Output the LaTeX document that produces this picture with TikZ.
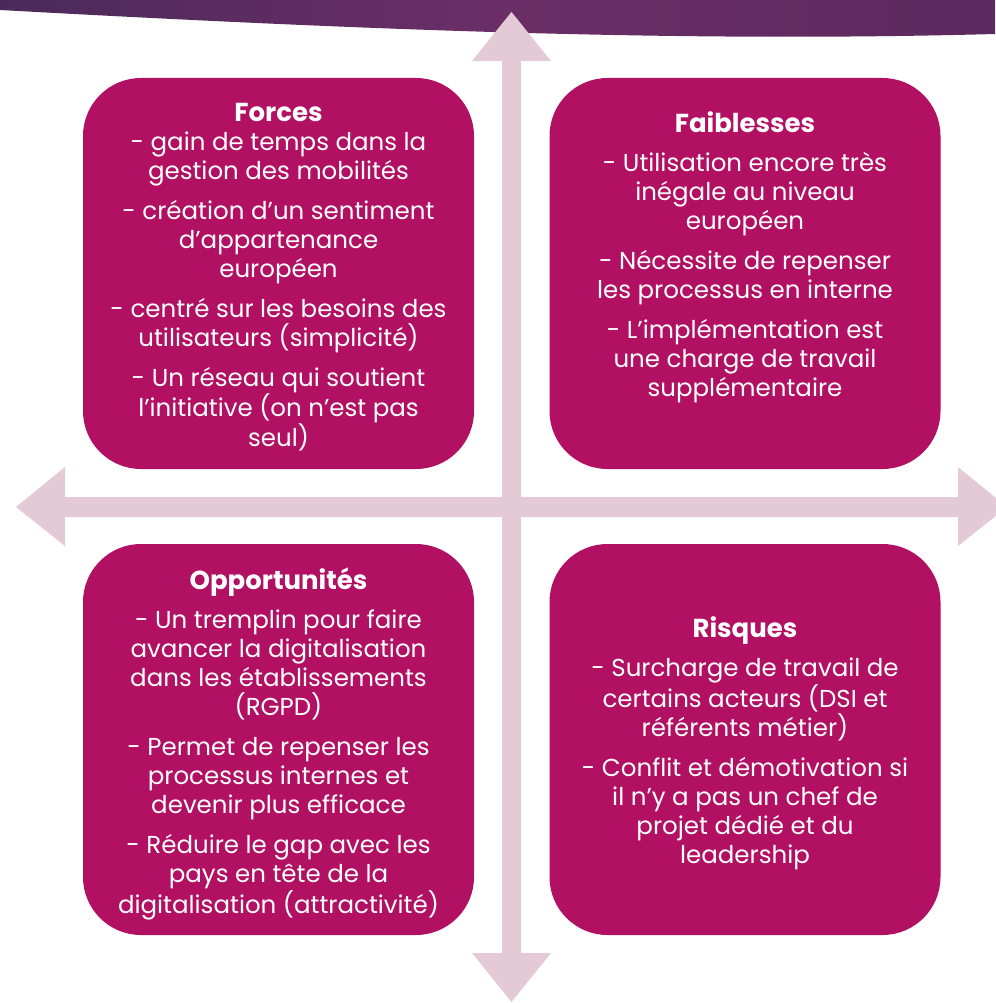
\documentclass[tikz,border=0pt]{standalone}
\usepackage{fontspec}
\setmainfont{Poppins}
\definecolor{boxc}{HTML}{B11063}
\definecolor{arrc}{HTML}{E3CAD4}
\definecolor{banL}{HTML}{4B2A5B}
\definecolor{banM}{HTML}{6B2E66}
\definecolor{banR}{HTML}{5B2A5E}
\tikzset{
  quad/.style={fill=boxc, draw=none, rounded corners=58pt, minimum width=391pt, minimum height=391pt, inner sep=0pt},
  body/.style={text=white, align=center, inner sep=0pt, font=\fontsize{24.5}{29}\selectfont},
  arr/.style={fill=arrc, draw=none}
}
\newcommand{\ttl}{\fontsize{26}{29}\selectfont\bfseries}
\begin{document}
\begin{tikzpicture}[x=1pt,y=-1pt]
\useasboundingbox (0,0) rectangle (995,1003);
% banner
\shade[left color=banL, right color=banR, middle color=banM]
  (0,0) -- (995,0) -- (995,34) .. controls (700,42) and (400,32) .. (0,10) -- cycle;
% arrows
\fill[arr] (16,507) -- (65,467) -- (65,497) -- (958,497) -- (958,467) -- (1007,507)
  -- (958,546) -- (958,517) -- (65,517) -- (65,546) -- cycle;
\fill[arr] (511.5,12) -- (551,61) -- (521,61) -- (521,953) -- (551,953) -- (511.5,1002)
  -- (472,953) -- (502,953) -- (502,61) -- (472,61) -- cycle;
% boxes
\node[quad] (f) at (278.5,273.5) {};
\node[quad] (w) at (745,273.5) {};
\node[quad] (o) at (278.5,739.5) {};
\node[quad] (r) at (745,739.5) {};
% texts
\node[body] (ft) at (278.5,277) {{\ttl Forces}\\[0pt]
- gain de temps dans la\\gestion des mobilités\\[11pt]
- création d’un sentiment\\d’appartenance\\européen\\[11pt]
- centré sur les besoins des\\utilisateurs (simplicité)\\[11pt]
- Un réseau qui soutient\\l’initiative (on n’est pas\\seul)};
\node[body] (wt) at (745,257) {{\ttl Faiblesses}\\[10pt]
- Utilisation encore très\\inégale au niveau\\européen\\[11pt]
- Nécessite de repenser\\les processus en interne\\[11pt]
- L’implémentation est\\une charge de travail\\supplémentaire};
\node[body] (ot) at (278.5,744) {{\ttl Opportunités}\\[10pt]
- Un tremplin pour faire\\avancer la digitalisation\\dans les établissements\\(RGPD)\\[11pt]
- Permet de repenser les\\processus internes et\\devenir plus efficace\\[11pt]
- Réduire le gap avec les\\pays en tête de la\\digitalisation (attractivité)};
\node[body] (rt) at (745,743.5) {{\ttl Risques}\\[10pt]
- Surcharge de travail de\\certains acteurs (DSI et\\référents métier)\\[11pt]
- Conflit et démotivation si\\il n’y a pas un chef de\\projet dédié et du\\leadership};
\end{tikzpicture}
\end{document}
